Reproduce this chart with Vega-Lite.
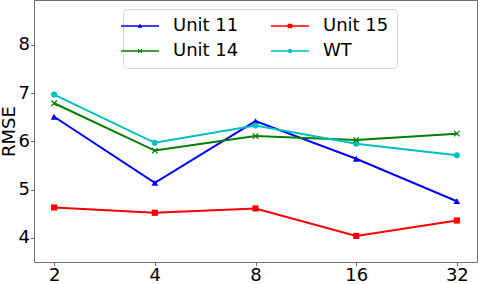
{
  "$schema": "https://vega.github.io/schema/vega-lite/v6.json",
  "width": 443,
  "height": 262,
  "autosize": {"type": "none"},
  "padding": {"left": 34, "top": 0, "right": 1, "bottom": 22},
  "config": {
    "font": "DejaVu Sans",
    "view": {"stroke": "#707070", "strokeWidth": 1},
    "axis": {
      "domain": false,
      "grid": false,
      "labelFont": "DejaVu Sans",
      "labelFontSize": 18,
      "labelColor": "#000000",
      "titleFont": "DejaVu Sans",
      "titleFontSize": 18,
      "titleFontWeight": "normal",
      "titleColor": "#000000",
      "tickColor": "#707070",
      "tickSize": 3.5,
      "labelPadding": 1
    }
  },
  "data": {
    "values": [
      {"series": "Unit 11", "k": "2", "rmse": 6.51},
      {"series": "Unit 11", "k": "4", "rmse": 5.14},
      {"series": "Unit 11", "k": "8", "rmse": 6.42},
      {"series": "Unit 11", "k": "16", "rmse": 5.64},
      {"series": "Unit 11", "k": "32", "rmse": 4.76},
      {"series": "Unit 14", "k": "2", "rmse": 6.79},
      {"series": "Unit 14", "k": "4", "rmse": 5.81},
      {"series": "Unit 14", "k": "8", "rmse": 6.11},
      {"series": "Unit 14", "k": "16", "rmse": 6.03},
      {"series": "Unit 14", "k": "32", "rmse": 6.16},
      {"series": "Unit 15", "k": "2", "rmse": 4.63},
      {"series": "Unit 15", "k": "4", "rmse": 4.52},
      {"series": "Unit 15", "k": "8", "rmse": 4.61},
      {"series": "Unit 15", "k": "16", "rmse": 4.04},
      {"series": "Unit 15", "k": "32", "rmse": 4.36},
      {"series": "WT", "k": "2", "rmse": 6.97},
      {"series": "WT", "k": "4", "rmse": 5.97},
      {"series": "WT", "k": "8", "rmse": 6.33},
      {"series": "WT", "k": "16", "rmse": 5.95},
      {"series": "WT", "k": "32", "rmse": 5.71}
    ]
  },
  "encoding": {
    "x": {
      "field": "k", "type": "ordinal",
      "sort": ["2", "4", "8", "16", "32"],
      "scale": {"type": "point", "padding": 0.2},
      "axis": {"title": null, "labelAngle": 0}
    },
    "y": {
      "field": "rmse", "type": "quantitative",
      "scale": {"domain": [3.5, 8.93], "nice": false, "zero": false},
      "axis": {"title": "RMSE", "values": [4, 5, 6, 7, 8], "titlePadding": 0}
    }
  },
  "layer": [
    {
      "mark": {"type": "line", "strokeWidth": 2},
      "encoding": {
        "color": {
          "field": "series", "type": "nominal",
          "scale": {"domain": ["WT", "Unit 11", "Unit 14", "Unit 15"], "range": ["#00bfbf", "#0000ff", "#008000", "#ff0000"]},
          "legend": null
        }
      }
    },
    {
      "transform": [{"filter": "datum.series === 'Unit 11'"}],
      "mark": {"type": "point", "shape": "triangle-up", "filled": true, "opacity": 1, "size": 45, "color": "#0000ff"}
    },
    {
      "transform": [{"filter": "datum.series === 'Unit 15'"}],
      "mark": {"type": "point", "shape": "square", "filled": true, "opacity": 1, "size": 38, "color": "#ff0000"}
    },
    {
      "transform": [{"filter": "datum.series === 'WT'"}],
      "mark": {"type": "point", "shape": "circle", "filled": true, "opacity": 1, "size": 36, "color": "#00bfbf"}
    },
    {
      "transform": [{"filter": "datum.series === 'Unit 14'"}],
      "mark": {"type": "point", "shape": "M-1,-1L1,1M-1,1L1,-1", "filled": false, "opacity": 1, "size": 30, "strokeWidth": 1.2, "color": "#008000"}
    },
    {
      "transform": [{"filter": "datum.series === 'none'"}],
      "mark": {"type": "point", "filled": true, "opacity": 1, "strokeWidth": 0},
      "encoding": {
        "fill": {
          "field": "series", "type": "nominal",
          "scale": {"domain": ["Unit 11", "Unit 14", "Unit 15", "WT"], "range": ["#0000ff", "#008000", "#ff0000", "#00bfbf"]},
          "legend": {
            "title": null,
            "orient": "none",
            "legendX": 89,
            "legendY": 9,
            "columns": 2,
            "columnPadding": 32,
            "rowPadding": 7,
            "symbolSize": 324,
            "symbolStrokeWidth": 0,
            "labelOffset": 24,
            "labelFont": "DejaVu Sans",
            "labelFontSize": 18,
            "labelColor": "#000000",
            "padding": 8,
            "fillColor": "rgba(255,255,255,0.8)",
            "strokeColor": "#d6d6d6",
            "cornerRadius": 4
          }
        },
        "shape": {
          "field": "series", "type": "nominal",
          "scale": {
            "domain": ["Unit 11", "Unit 14", "Unit 15", "WT"],
            "range": [
              "M-2.11,-0.083L2.11,-0.083L2.11,0.083L-2.11,0.083Z M0,-0.27L0.27,0.2L-0.27,0.2Z",
              "M-2.11,-0.083L2.11,-0.083L2.11,0.083L-2.11,0.083Z M-0.18,-0.25L0.25,0.18L0.18,0.25L-0.25,-0.18Z M0.18,-0.25L0.25,-0.18L-0.18,0.25L-0.25,0.18Z",
              "M-2.11,-0.083L2.11,-0.083L2.11,0.083L-2.11,0.083Z M-0.25,-0.25L0.25,-0.25L0.25,0.25L-0.25,0.25Z",
              "M-2.11,-0.083L2.11,-0.083L2.11,0.083L-2.11,0.083Z M0.25,0A0.25,0.25 0 1,1 -0.25,0A0.25,0.25 0 1,1 0.25,0Z"
            ]
          },
          "legend": {"title": null}
        }
      }
    }
  ]
}
